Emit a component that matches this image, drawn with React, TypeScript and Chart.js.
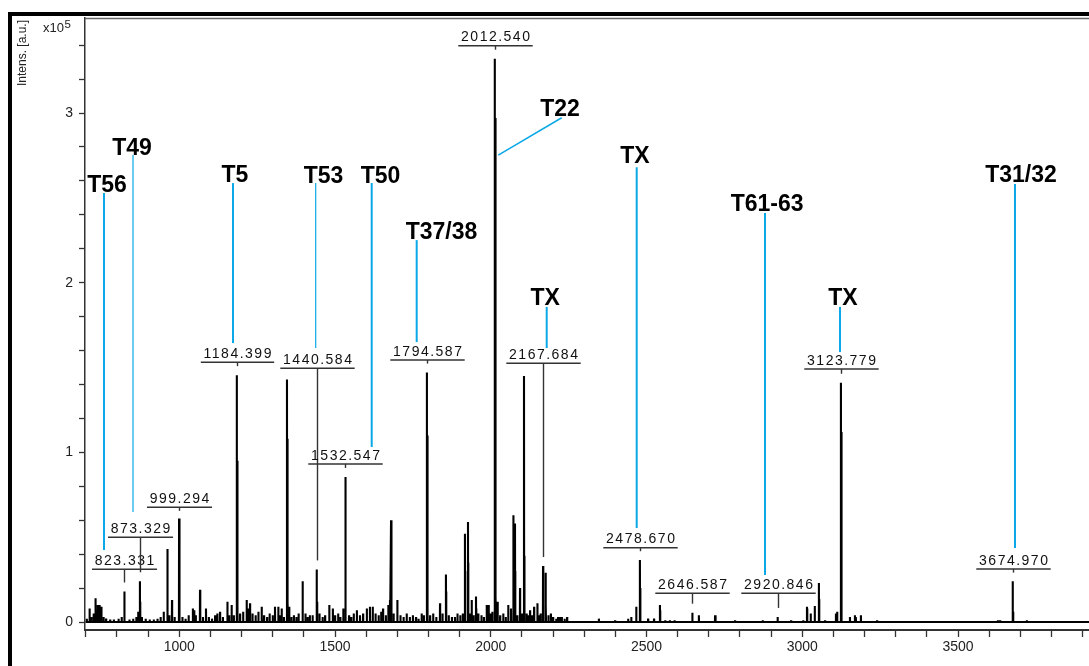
import { useEffect, useRef } from "react";
import { Chart, registerables } from "chart.js";

Chart.register(...registerables);

// Centroided peak list: m/z values and intensities (in units of 10^5 a.u.)
const peakMz = [
  703, 712, 718, 725, 731, 735, 738, 744, 750, 757, 765, 778, 790, 805, 815,
  823.3, 824.3, 840, 852, 862, 868, 873.3, 874.3, 880, 892, 905, 918, 930, 940, 950,
  961.5, 962.5, 968, 976.6, 985, 999.3, 1000.3, 1001.3, 1010, 1020, 1030, 1043.7, 1048, 1053,
  1066.5, 1067.5, 1076, 1085.7, 1095, 1105, 1115, 1122, 1130.7, 1140, 1154, 1155, 1160, 1168, 1175,
  1184.4, 1185.4, 1186.4, 1187.4, 1195, 1205, 1216.3, 1222, 1227, 1235, 1245, 1254, 1264.5, 1272,
  1282, 1290, 1300, 1307.2, 1317.9, 1323, 1328.7, 1336, 1345.7, 1346.7, 1347.7, 1348.7, 1353,
  1360, 1368, 1376, 1383, 1395.5, 1396.5, 1405, 1412, 1419, 1428, 1440.6, 1441.6, 1442.6, 1450,
  1460, 1468, 1481.5, 1493, 1500, 1510, 1517, 1526.5, 1532.5, 1533.5, 1534.5, 1545, 1552, 1560,
  1570, 1580, 1590, 1602, 1612, 1621, 1630, 1640, 1648, 1654, 1663, 1671, 1676.4, 1679.8, 1680.8,
  1681.8, 1688, 1700, 1710, 1720, 1730, 1740, 1750, 1760, 1768, 1778, 1785, 1794.6, 1795.6, 1796.6,
  1797.6, 1805, 1815, 1825, 1837, 1845, 1856, 1857, 1865, 1875, 1885, 1893, 1902, 1910, 1917, 1918,
  1926.8, 1927.8, 1933, 1938.7, 1945, 1952.5, 1953.5, 1960, 1970, 1978, 1986.8, 1993.3, 2000, 2005,
  2012.54, 2013.54, 2014.54, 2015.54, 2016.54, 2022, 2030, 2040, 2048, 2056, 2064.8, 2072, 2073,
  2077.7, 2078.7, 2085, 2093.8, 2100, 2106.6, 2107.6, 2108.6, 2115, 2120, 2126, 2132, 2139, 2149.6,
  2155, 2160, 2167.7, 2168.7, 2175.8, 2176.8, 2185, 2193, 2200, 2210, 2216, 2222, 2228, 2237, 2245,
  2347, 2399, 2441, 2451, 2467, 2478.67, 2479.67, 2480.67, 2505, 2524, 2543, 2544, 2560, 2575, 2590,
  2646.6, 2647.6, 2668, 2720, 2722, 2784, 2873, 2920.8, 2964, 3003, 3015, 3016, 3027, 3040, 3053,
  3054, 3073, 3108, 3112, 3123.8, 3124.8, 3125.8, 3126.8, 3153, 3169, 3172, 3188, 3240, 3628, 3635,
  3674.97, 3675.97, 3676.97, 3721,
];

const peakIntensity = [
  0.02, 0.08, 0.03, 0.05, 0.14, 0.07, 0.10, 0.10, 0.09, 0.03, 0.02, 0.015, 0.015, 0.02, 0.03,
  0.18, 0.08, 0.015, 0.02, 0.03, 0.06, 0.24, 0.12, 0.03, 0.02, 0.015, 0.015, 0.02, 0.03, 0.06,
  0.43, 0.15, 0.04, 0.13, 0.03, 0.61, 0.21, 0.06, 0.03, 0.02, 0.04, 0.08, 0.07, 0.04,
  0.19, 0.08, 0.03, 0.08, 0.03, 0.02, 0.04, 0.05, 0.06, 0.03, 0.12, 0.06, 0.04, 0.10, 0.04,
  1.455, 0.95, 0.42, 0.12, 0.05, 0.06, 0.13, 0.08, 0.11, 0.05, 0.04, 0.06, 0.09, 0.04,
  0.03, 0.05, 0.04, 0.09, 0.09, 0.04, 0.08, 0.03, 1.43, 1.08, 0.45, 0.12, 0.09,
  0.03, 0.04, 0.03, 0.05, 0.24, 0.10, 0.05, 0.03, 0.04, 0.04, 0.31, 0.28, 0.12, 0.05,
  0.03, 0.04, 0.10, 0.08, 0.04, 0.05, 0.03, 0.08, 0.855, 0.60, 0.20, 0.04, 0.03, 0.05,
  0.07, 0.04, 0.05, 0.08, 0.09, 0.09, 0.05, 0.04, 0.06, 0.08, 0.04, 0.10, 0.13, 0.60, 0.60,
  0.30, 0.05, 0.13, 0.04, 0.03, 0.05, 0.03, 0.04, 0.03, 0.02, 0.05, 0.04, 1.47, 1.10, 0.45,
  0.12, 0.04, 0.05, 0.03, 0.11, 0.05, 0.28, 0.18, 0.04, 0.03, 0.03, 0.05, 0.04, 0.05, 0.52, 0.30,
  0.59, 0.35, 0.05, 0.13, 0.04, 0.15, 0.08, 0.05, 0.04, 0.03, 0.10, 0.10, 0.05, 0.06,
  3.32, 2.97, 1.60, 0.60, 0.15, 0.12, 0.04, 0.05, 0.03, 0.10, 0.08, 0.63, 0.35,
  0.58, 0.30, 0.04, 0.20, 0.05, 1.45, 0.39, 0.15, 0.05, 0.04, 0.07, 0.04, 0.09, 0.11,
  0.04, 0.05, 0.33, 0.10, 0.29, 0.10, 0.04, 0.05, 0.03, 0.02, 0.03, 0.03, 0.03, 0.02, 0.03,
  0.02, 0.01, 0.02, 0.03, 0.09, 0.365, 0.20, 0.08, 0.02, 0.02, 0.10, 0.07, 0.01, 0.01, 0.01,
  0.055, 0.03, 0.04, 0.04, 0.02, 0.01, 0.01, 0.03, 0.01, 0.01, 0.09, 0.08, 0.05, 0.095, 0.23,
  0.135, 0.01, 0.05, 0.06, 1.41, 1.12, 0.50, 0.10, 0.03, 0.04, 0.03, 0.04, 0.01, 0.01, 0.01,
  0.24, 0.20, 0.06, 0.01,
];

// Annotated monoisotopic masses
const massLabels = [
  "823.331", "873.329", "999.294", "1184.399", "1440.584", "1532.547", "1794.587",
  "2012.540", "2167.684", "2478.670", "2646.587", "2920.846", "3123.779", "3674.970",
];

// Peptide assignments
const tagTexts = ["T56", "T49", "T5", "T53", "T50", "T37/38", "T22", "TX", "TX", "T61-63", "TX", "T31/32"];

// Axis ranges and tick labels
const mzRange = [697.3, 3920.4];
const intensityRange = [-0.047, 3.56];
const mzLabelTicks = [1000, 1500, 2000, 2500, 3000, 3500];
const intensityLabelTicks = [0, 1, 2, 3];

// ---- layout of the annotations (data units: m/z, 10^5 a.u.) ----
const labelLift = [0.311, 0.499, 0.676, 1.531, 1.495, 0.931, 1.544, 3.397, 1.525, 0.438, 0.169, 0.169, 1.491, 0.312];

const tagLayout = [
  { tx: 767.9, ty: 2.584, x1: 758.3, y1: 2.528, x2: 758.3, y2: 0.424, w: 2 },
  { tx: 848.5, ty: 2.8, x1: 851.4, y1: 2.752, x2: 851.4, y2: 0.648, w: 1.2 },
  { tx: 1178.8, ty: 2.64, x1: 1172.4, y1: 2.587, x2: 1172.4, y2: 1.644, w: 2 },
  { tx: 1462.9, ty: 2.637, x1: 1437.9, y1: 2.587, x2: 1437.9, y2: 1.615, w: 1.2 },
  { tx: 1645.9, ty: 2.637, x1: 1617.7, y1: 2.587, x2: 1617.7, y2: 1.031, w: 2 },
  { tx: 1841.7, ty: 2.304, x1: 1762.1, y1: 2.251, x2: 1762.1, y2: 1.65, w: 2 },
  { tx: 2222.2, ty: 3.029, x1: 2227.6, y1: 2.972, x2: 2024.1, y2: 2.752, w: 1.5 },
  { tx: 2462.9, ty: 2.752, x1: 2468.4, y1: 2.681, x2: 2468.4, y2: 0.554, w: 2 },
  { tx: 2174.3, ty: 1.915, x1: 2179.5, y1: 1.857, x2: 2179.5, y2: 1.615, w: 2 },
  { tx: 2887.0, ty: 2.469, x1: 2880.3, y1: 2.411, x2: 2880.3, y2: 0.277, w: 2 },
  { tx: 3130.6, ty: 1.915, x1: 3121.1, y1: 1.857, x2: 3121.1, y2: 1.591, w: 2 },
  { tx: 3702.1, ty: 2.64, x1: 3682.8, y1: 2.581, x2: 3682.8, y2: 0.436, w: 2 },
];

const TAG_BLUE = "#0aa8e6";
const SANS = '"Liberation Sans", Arial, sans-serif';

// Stick spectrum: each centroid becomes a narrow spike on the zero baseline
function spectrumPoints() {
  const pts: { x: number; y: number }[] = [{ x: 699, y: 0 }];
  const hw = 0.45;
  peakMz.forEach((mz, i) => {
    pts.push({ x: mz - hw, y: 0 }, { x: mz, y: peakIntensity[i] }, { x: mz + hw, y: 0 });
  });
  pts.push({ x: mzRange[1], y: 0 });
  return pts;
}

function peakHeightNear(mz: number) {
  let h = 0;
  peakMz.forEach((m, i) => {
    if (Math.abs(m - mz) < 0.6) h = Math.max(h, peakIntensity[i]);
  });
  return h;
}

const annotationPlugin = {
  id: "spectrumAnnotations",
  afterDraw(chart: any) {
    const { ctx, chartArea, scales } = chart;
    const xs = scales.x;
    const ys = scales.y;
    const W = chart.width;
    const H = chart.height;
    ctx.save();

    // plot frame top edge
    ctx.strokeStyle = "#666";
    ctx.lineWidth = 1.5;
    ctx.beginPath();
    ctx.moveTo(chartArea.left, chartArea.top + 0.5);
    ctx.lineTo(chartArea.right, chartArea.top + 0.5);
    ctx.stroke();

    // window frame
    ctx.fillStyle = "#000";
    ctx.fillRect(8, 12, W - 8, 4);
    ctx.fillRect(8, 12, 4, H - 12);

    // axis title and exponent
    ctx.fillStyle = "#222";
    ctx.save();
    ctx.translate(23, 20);
    ctx.rotate(-Math.PI / 2);
    ctx.font = `12px ${SANS}`;
    ctx.textAlign = "right";
    ctx.textBaseline = "middle";
    ctx.fillText("Intens. [a.u.]", 0, 0);
    ctx.restore();
    ctx.font = `13px ${SANS}`;
    ctx.textAlign = "left";
    ctx.textBaseline = "alphabetic";
    ctx.fillText("x10", 43, 32);
    const w10 = ctx.measureText("x10").width;
    ctx.font = `11.5px ${SANS}`;
    ctx.fillText("5", 43 + w10 + 0.5, 28);

    // mass labels with underline and leader to the peak
    ctx.font = `14px ${SANS}`;
    (ctx as any).letterSpacing = "1.5px";
    massLabels.forEach((label, i) => {
      const mz = parseFloat(label);
      const px = Math.round(xs.getPixelForValue(mz)) + 0.5;
      const uy = ys.getPixelForValue(labelLift[i]);
      const w = ctx.measureText(label).width;
      const half = (w + 4) / 2;
      ctx.strokeStyle = "#333";
      ctx.lineWidth = 1.5;
      ctx.beginPath();
      ctx.moveTo(px - half, uy);
      ctx.lineTo(px + half, uy);
      ctx.stroke();
      const topPx = ys.getPixelForValue(peakHeightNear(mz));
      const tickEnd = Math.max(uy + 3.5, topPx - 9);
      ctx.lineWidth = 1.4;
      ctx.beginPath();
      ctx.moveTo(px, uy);
      ctx.lineTo(px, tickEnd);
      ctx.stroke();
      ctx.fillStyle = "#111";
      ctx.textAlign = "center";
      ctx.textBaseline = "alphabetic";
      ctx.fillText(label, px + 0.75, uy - 4.5);
    });
    (ctx as any).letterSpacing = "0px";

    // peptide tags
    ctx.font = `bold 23px ${SANS}`;
    tagTexts.forEach((tag, i) => {
      const L = tagLayout[i];
      ctx.strokeStyle = TAG_BLUE;
      ctx.lineWidth = L.w;
      ctx.beginPath();
      ctx.moveTo(xs.getPixelForValue(L.x1), ys.getPixelForValue(L.y1));
      ctx.lineTo(xs.getPixelForValue(L.x2), ys.getPixelForValue(L.y2));
      ctx.stroke();
      ctx.fillStyle = "#000";
      ctx.textAlign = "center";
      ctx.textBaseline = "alphabetic";
      ctx.fillText(tag, xs.getPixelForValue(L.tx), ys.getPixelForValue(L.ty) + 0.358 * 23);
    });

    ctx.restore();
  },
};

export default function App() {
  const canvasRef = useRef<HTMLCanvasElement>(null);

  useEffect(() => {
    document.body.style.margin = "0";
    const canvas = canvasRef.current;
    if (!canvas) return;
    const chart = new Chart(canvas, {
      type: "line",
      data: {
        datasets: [
          {
            data: spectrumPoints(),
            borderColor: "#000",
            borderWidth: 2.1,
            pointRadius: 0,
            fill: false,
            tension: 0,
          },
        ],
      },
      options: {
        responsive: false,
        animation: false,
        events: [],
        layout: { padding: { top: 18, left: 0, right: 0, bottom: 0 } },
        plugins: { legend: { display: false }, tooltip: { enabled: false } },
        scales: {
          x: {
            type: "linear",
            min: mzRange[0],
            max: mzRange[1],
            afterFit: (s: any) => {
              s.height = 36;
            },
            ticks: {
              stepSize: 100,
              includeBounds: false,
              autoSkip: false,
              maxRotation: 0,
              maxTicksLimit: 1000,
              padding: 2,
              color: "#222",
              font: { family: SANS, size: 14 },
              callback: (v: any) => (mzLabelTicks.includes(Math.round(v)) && Math.abs(v - Math.round(v)) < 1e-6 ? String(Math.round(v)) : ""),
            },
            grid: { drawOnChartArea: false, drawTicks: true, tickLength: 7, tickColor: "#333", tickWidth: 1.3 },
            border: { display: true, color: "#333", width: 2 },
          },
          y: {
            type: "linear",
            min: intensityRange[0],
            max: intensityRange[1],
            afterFit: (s: any) => {
              s.width = 85;
            },
            ticks: {
              stepSize: 0.2,
              includeBounds: false,
              autoSkip: false,
              maxTicksLimit: 1000,
              padding: 6,
              color: "#222",
              font: { family: SANS, size: 14 },
              callback: (v: any) => {
                const r = Math.round(v);
                return Math.abs(v - r) < 1e-6 && intensityLabelTicks.includes(r) ? String(r) : "";
              },
            },
            grid: { drawOnChartArea: false, drawTicks: true, tickLength: 6, tickColor: "#333", tickWidth: 1.3 },
            border: { display: true, color: "#333", width: 1.5 },
          },
        },
      },
      plugins: [annotationPlugin],
    } as any);
    return () => chart.destroy();
  }, []);

  return (
    <div style={{ position: "fixed", left: 0, top: 0, width: 1089, height: 666, background: "#fff" }}>
      <canvas ref={canvasRef} width={1089} height={666} style={{ display: "block" }} />
    </div>
  );
}
